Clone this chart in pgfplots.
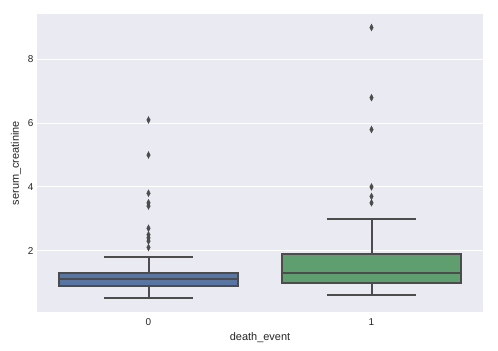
\documentclass[border=0pt]{standalone}
\usepackage{pgfplots}
\pgfplotsset{compat=1.18}
\usepgfplotslibrary{statistics}
\usepackage{fontspec}
\setmainfont{Liberation Sans}
\definecolor{bg}{HTML}{EAEAF2}
\definecolor{edge}{HTML}{4C4C4C}
\definecolor{txt}{HTML}{262626}
\definecolor{sbblue}{HTML}{5975A4}
\definecolor{sbgreen}{HTML}{5F9E6E}
\begin{document}
\begin{tikzpicture}
\path[use as bounding box] (0,0) rectangle (498bp,351bp);
\begin{axis}[at={(37bp,39bp)}, anchor=south west, scale only axis,
  width=446bp, height=298bp,
  xmin=-0.5, xmax=1.5, ymin=0.075, ymax=9.425,
  axis background/.style={fill=bg}, axis line style={draw=none},
  ymajorgrids, grid style={white, line width=1bp},
  xtick={0,1}, ytick={2,4,6,8}, tick style={draw=none},
  ticklabel style={font=\fontsize{10}{12}\selectfont, text=txt},
  xticklabel style={yshift=-3bp},
  xlabel={death\_event}, ylabel={serum\_creatinine},
  label style={font=\fontsize{11}{13}\selectfont, text=txt},
  /pgf/number format/assume math mode=true,
  boxplot/draw direction=y,
  boxplot/every whisker/.style={draw=edge, line width=2bp, solid},
  boxplot/every median/.style={draw=edge, line width=2bp, solid},
  boxplot/every box/.style={draw=edge, line width=2bp, solid},
]
\addplot[draw=edge, line width=2bp, fill=sbblue, mark=diamond*,
  mark options={fill=edge, draw=edge, line width=0.5bp, xscale=0.7, solid}, mark size=3.3bp,
  boxplot prepared={median=1.1, lower quartile=0.9, upper quartile=1.3,
    lower whisker=0.5, upper whisker=1.8, draw position=0,
    box extend=0.8, whisker extend=0.4}]
  table[row sep=\\, y index=0] {data\\ 6.1\\ 5.0\\ 3.8\\ 3.5\\ 3.4\\ 2.7\\ 2.5\\ 2.4\\ 2.3\\ 2.1\\};
\addplot[draw=edge, line width=2bp, fill=sbgreen, mark=diamond*,
  mark options={fill=edge, draw=edge, line width=0.5bp, xscale=0.7, solid}, mark size=3.3bp,
  boxplot prepared={median=1.3, lower quartile=1.0, upper quartile=1.9,
    lower whisker=0.6, upper whisker=3.0, draw position=1,
    box extend=0.8, whisker extend=0.4}]
  table[row sep=\\, y index=0] {data\\ 9.0\\ 6.8\\ 5.8\\ 4.0\\ 3.7\\ 3.5\\};
\end{axis}
\end{tikzpicture}
\end{document}
